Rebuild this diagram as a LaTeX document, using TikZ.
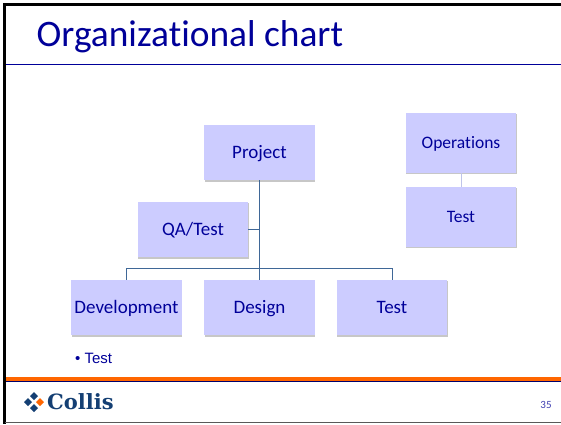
\documentclass[tikz,border=0pt]{standalone}
\usepackage{fontspec}
\setmainfont{Carlito}[Ligatures=NoCommon]
\newfontfamily\bulletfont{Liberation Sans}
\newfontfamily\logofont{DejaVu Serif}
\usetikzlibrary{shadows}
\definecolor{navy}{HTML}{000099}
\definecolor{boxfill}{HTML}{CCCCFF}
\definecolor{linkblue}{HTML}{3F6797}
\definecolor{linkpale}{HTML}{BFC4EA}
\definecolor{barorange}{HTML}{FF6600}
\definecolor{logoblue}{HTML}{143F73}
\tikzset{
  orgbox/.style={fill=boxfill,draw=none,inner sep=0pt,text=navy,
    text height=14pt,text depth=3pt,
    minimum width=110.5pt,minimum height=55.5pt,font=\fontsize{19}{22}\selectfont,
    drop shadow={shadow xshift=0.5pt,shadow yshift=-1.3pt,fill=black,opacity=.22}},
  tallbox/.style={orgbox,minimum height=60pt,text height=13pt,font=\fontsize{17.5}{20}\selectfont},
  link/.style={draw=linkblue,line width=0.8pt},
  palelink/.style={draw=linkpale,line width=0.8pt},
  gem/.style={fill=logoblue,draw=none}
}
\begin{document}
\begin{tikzpicture}[x=1pt,y=-1pt]
\useasboundingbox (0,0) rectangle (561,424);
\fill[white] (0,0) rectangle (561,424);
% frame
\fill[black] (3,3) rectangle (561,5.5);
\fill[black] (3,3) rectangle (5.5,424);
\fill[black!65] (5,421.5) rectangle (561,423);
% title
\node[anchor=west,inner sep=0pt,text=navy,font=\fontsize{37.4}{42}\selectfont] (title) at (36.5,36.5) {Organizational chart};
\fill[navy] (5.5,63.7) rectangle (561,64.9);
% footer bars
\fill[barorange] (5.5,377) rectangle (561,381);
\fill[navy!70!black] (5.5,381) rectangle (561,382);
% boxes
\node[orgbox] (project) at (259.5,152.5) {Project};
\node[orgbox] (qa) at (193,229.5) {QA/Test};
\node[orgbox] (dev) at (126.5,307.5) {Development};
\node[orgbox] (design) at (259.5,307.5) {Design};
\node[orgbox] (testb) at (392,307.5) {Test};
\node[tallbox] (ops) at (461,143) {Operations};
\node[tallbox] (testr) at (461,217) {Test};
% connectors
\coordinate (bus) at (259.5,268.5);
\draw[link] (project.south) -- (design.north);
\draw[link] (qa.east) -- (qa.east -| project.south);
\draw[link] (dev.north) |- (bus) -| (testb.north);
\draw[palelink] (ops.south) -- (testr.north);
% bullet text
\node[anchor=west,inner sep=0pt,text=navy,font=\bulletfont\fontsize{15}{17}\selectfont] (bullet) at (75,358) {• Test};
% logo
\fill[gem] (34,392) -- (38,396) -- (34,400) -- (30,396) -- cycle;
\fill[gem] (28,398) -- (32,402) -- (28,406) -- (24,402) -- cycle;
\fill[gem] (34,404) -- (38,408) -- (34,412) -- (30,408) -- cycle;
\fill[barorange] (40,398) -- (44,402) -- (40,406) -- (36,402) -- cycle;
\node[anchor=west,inner sep=0pt,text=logoblue,font=\logofont\bfseries\fontsize{21}{24}\selectfont] (logo) at (47,402) {Collis};
% page number
\node[anchor=center,inner sep=0pt,text=navy!75,font=\fontsize{11}{13}\selectfont] (page) at (546,405) {35};
\end{tikzpicture}
\end{document}
